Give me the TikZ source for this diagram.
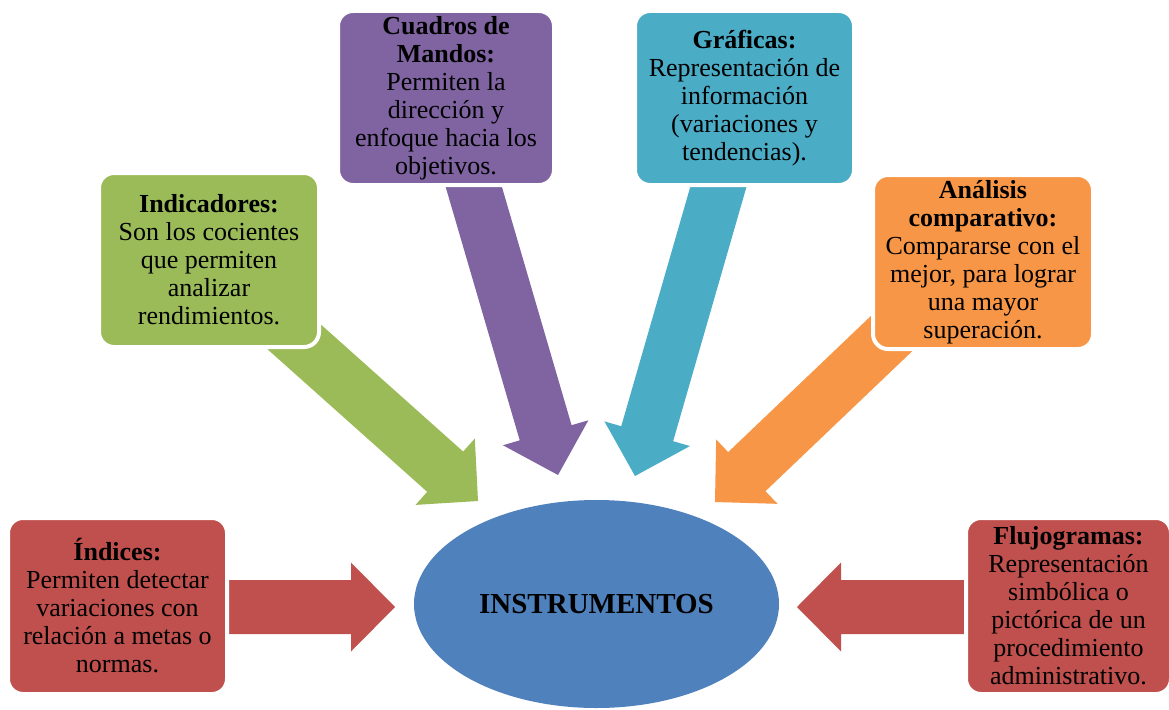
\documentclass[tikz,border=0pt]{standalone}
\usepackage{fontspec}
\setmainfont{Liberation Serif}
\usetikzlibrary{calc,shapes.geometric}
\definecolor{cred}{HTML}{C0504D}
\definecolor{cgreen}{HTML}{9BBB59}
\definecolor{cpurple}{HTML}{8064A2}
\definecolor{ccyan}{HTML}{4BACC6}
\definecolor{corange}{HTML}{F79646}
\definecolor{cblue}{HTML}{4F81BD}
\tikzset{
  box/.style={rounded corners=15pt, draw=white, line width=4pt, align=center,
    inner sep=0pt, text=black, font=\fontsize{26}{28}\selectfont},
  hub/.style={ellipse, fill=cblue, inner sep=0pt, text=black,
    font=\fontsize{29}{32}\selectfont\bfseries},
}
% block arrow: #1 colour, #2 tail coordinate, #3 tip coordinate
\newcommand\blockarrow[3]{%
  \path ($(#3)!44pt!(#2)$) coordinate (hb);
  \fill[#1] ($(#2)!27pt!90:(#3)$) -- ($(hb)!27pt!90:(#3)$) -- ($(hb)!44.5pt!90:(#3)$)
    -- (#3) -- ($(hb)!44.5pt!-90:(#3)$) -- ($(hb)!27pt!-90:(#3)$)
    -- ($(#2)!27pt!-90:(#3)$) -- cycle;
}
\begin{document}
\begin{tikzpicture}[x=1pt,y=-1pt]
\useasboundingbox (0,0) rectangle (1169,709);
\fill[white] (0,0) rectangle (1169,709);
% arrow ends
\coordinate (tIdx) at (200,607);  \coordinate (pIdx) at (395,607);
\coordinate (tFlu) at (990,607);  \coordinate (pFlu) at (797,607);
\coordinate (tInd) at (254,301);  \coordinate (pInd) at (478,501);
\coordinate (tCua) at (463,150);  \coordinate (pCua) at (558,475);
\coordinate (tGra) at (729,150);  \coordinate (pGra) at (635,476);
\coordinate (tAna) at (932,295);  \coordinate (pAna) at (715,502);
% arrows
\blockarrow{cred}{tIdx}{pIdx}
\blockarrow{cred}{tFlu}{pFlu}
\blockarrow{cgreen}{tInd}{pInd}
\blockarrow{cpurple}{tCua}{pCua}
\blockarrow{ccyan}{tGra}{pGra}
\blockarrow{corange}{tAna}{pAna}
% centre
\node[hub, minimum width=365pt, minimum height=208pt] (hub) at (596.5,604) {INSTRUMENTOS};
% boxes
\node[box, fill=cred, minimum width=219pt, minimum height=176pt] (idx) at (117.5,606)
  {\textbf{Índices:}\\Permiten detectar\\variaciones con\\relación a metas o\\normas.};
\node[box, fill=cred, minimum width=205pt, minimum height=176pt] (flu) at (1068.5,606)
  {\textbf{Flujogramas:}\\Representación\\simbólica o\\pictórica de un\\procedimiento\\administrativo.};
\node[box, fill=cgreen, minimum width=220pt, minimum height=174pt] (ind) at (209,260)
  {\textbf{Indicadores:}\\Son los cocientes\\que permiten\\analizar\\rendimientos.};
\node[box, fill=corange, minimum width=220pt, minimum height=174pt] (ana) at (983,262)
  {\textbf{Análisis}\\\textbf{comparativo:}\\Compararse con el\\mejor, para lograr\\una mayor\\superación.};
\node[box, fill=cpurple, minimum width=216pt, minimum height=174pt] (cua) at (446,98)
  {\textbf{Cuadros de}\\\textbf{Mandos:}\\Permiten la\\dirección y\\enfoque hacia los\\objetivos.};
\node[box, fill=ccyan, minimum width=219pt, minimum height=174pt] (gra) at (744.5,98)
  {\textbf{Gráficas:}\\Representación de\\información\\(variaciones y\\tendencias).};
\end{tikzpicture}
\end{document}
